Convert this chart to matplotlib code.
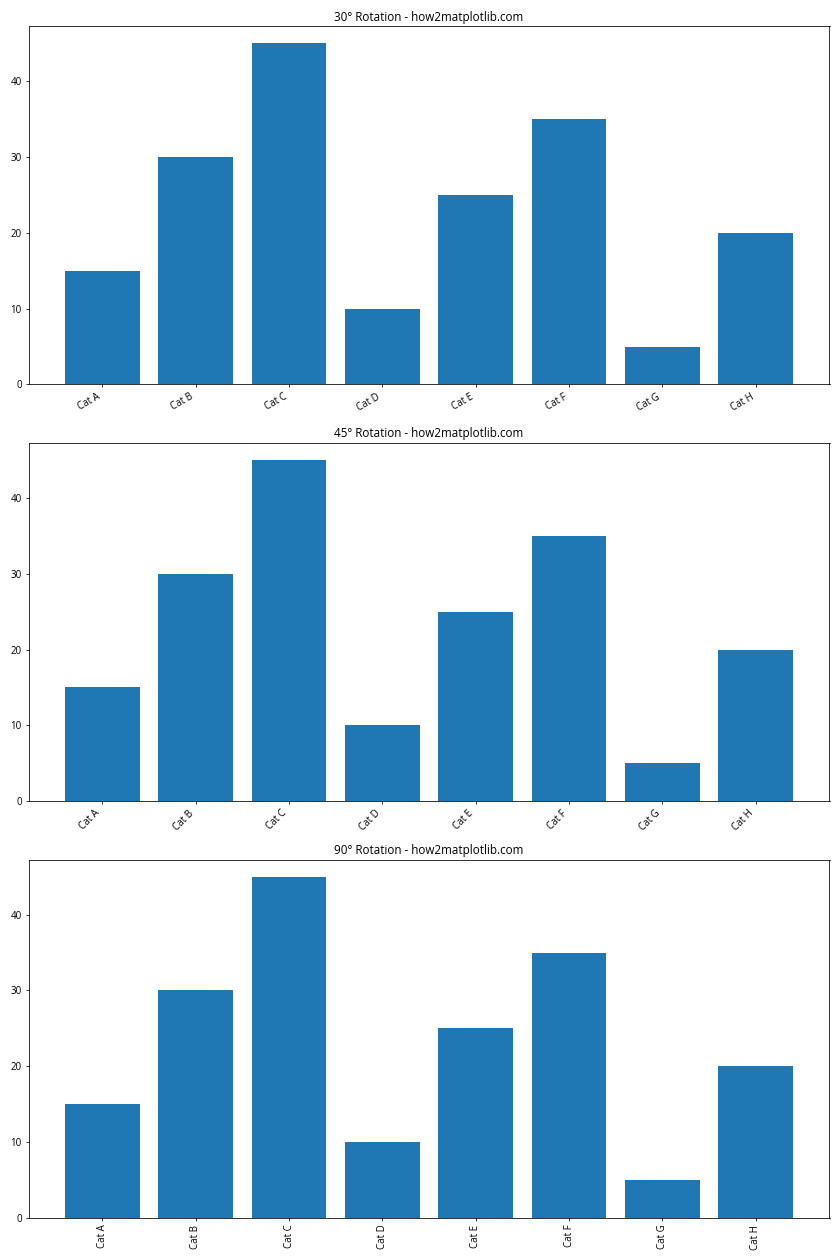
import matplotlib
matplotlib.use("Agg")
import matplotlib.pyplot as plt

plt.rcParams['font.family'] = ['Open Sans', 'DejaVu Sans']

categories = ['Cat A', 'Cat B', 'Cat C', 'Cat D', 'Cat E', 'Cat F', 'Cat G', 'Cat H']
values = [15, 30, 45, 10, 25, 35, 5, 20]
rotations = [30, 45, 90]

fig, axes = plt.subplots(3, 1, figsize=(12, 18), dpi=70)

for ax, rot in zip(axes, rotations):
    ax.bar(categories, values)
    ax.set_title(f"{rot}° Rotation - how2matplotlib.com")
    if rot == 90:
        plt.setp(ax.get_xticklabels(), rotation=rot, ha='center')
    else:
        plt.setp(ax.get_xticklabels(), rotation=rot, ha='right')

plt.tight_layout()
plt.savefig("out.png")
